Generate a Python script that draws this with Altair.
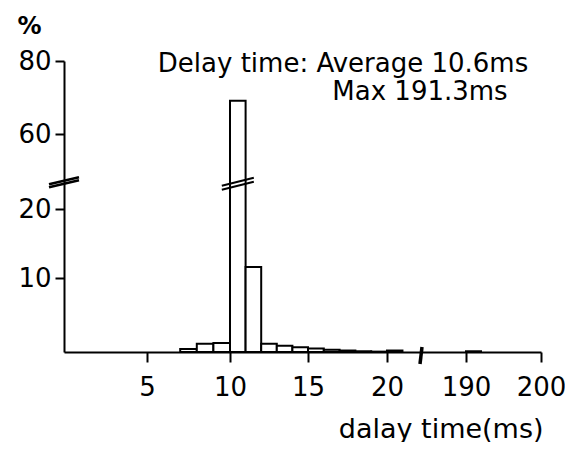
import altair as alt
import pandas as pd

# ---- data ----
bin_start = [7, 8, 9, 10, 11, 12, 13, 14, 15, 16, 17, 18, 19, 20, 190]
bin_end = [8, 9, 10, 11, 12, 13, 14, 15, 16, 17, 18, 19, 20, 21, 192]
percent = [0.4, 1.1, 1.2, 69.1, 11.6, 1.1, 0.85, 0.65, 0.47, 0.3, 0.2, 0.1, 0.05, 0.2, 0.1]

x_ticks = [5, 10, 15, 20, 190, 200]
y_ticks = [10, 20, 60, 80]

# broken axes (piecewise scales)
x_domain = [0, 5, 10, 15, 20, 22.2, 184, 190, 200]
x_range = [0, 83, 166, 244, 323, 357, 358, 402, 477]
y_domain = [0, 10, 20, 60, 80]
y_range = [291, 217, 148, 73, 0]

y_break = 33.5      # % value where the y axis / tall bar is broken
x_break = 22.2      # ms value where the x axis is broken
tall_bar_mid = 10.5

note_lines = ["Delay time: Average 10.6ms", "Max 191.3ms"]

FONT = "DejaVu Sans"

df = pd.DataFrame({"start": bin_start, "end": bin_end, "pct": percent})

xscale = alt.Scale(domain=x_domain, range=x_range, zero=False, nice=False)
yscale = alt.Scale(domain=y_domain, range=y_range, zero=False, nice=False)

bars = alt.Chart(df).mark_rect(fill="white", stroke="black", strokeWidth=2).encode(
    x=alt.X("start:Q", scale=xscale,
            axis=alt.Axis(values=x_ticks, title="dalay time(ms)", grid=False,
                          labelFont=FONT, labelFontSize=26, labelColor="black",
                          labelPadding=12, labelFlush=False, labelOverlap=False,
                          tickSize=10, tickWidth=2, tickColor="black",
                          domainColor="black", domainWidth=2,
                          titleFont=FONT, titleFontSize=27, titleFontWeight="normal",
                          titleColor="black", titleX=479, titleY=85, titleAlign="right",
                          titleBaseline="alphabetic", titleAnchor="end")),
    x2="end:Q",
    y=alt.Y("pct:Q", scale=yscale,
            axis=alt.Axis(values=y_ticks, title="%", grid=False,
                          labelFont=FONT, labelFontSize=26, labelColor="black",
                          labelPadding=4, labelFlush=False, labelOverlap=False,
                          tickSize=9, tickWidth=2, tickColor="black",
                          domainColor="black", domainWidth=2,
                          titleFont=FONT, titleFontSize=24, titleFontWeight="bold",
                          titleColor="black", titleAngle=0, titleX=-47, titleY=-28,
                          titleAlign="left", titleBaseline="alphabetic")),
    y2=alt.datum(0),
)

brk_y = pd.DataFrame({"x": [0.0], "y": [y_break]})
brk_bar = pd.DataFrame({"x": [tall_bar_mid], "y": [y_break]})
brk_x = pd.DataFrame({"x": [x_break], "y": [0.0]})


def slash(data, dy, half_w, half_h, width=2.5):
    return alt.Chart(data).mark_rule(
        color="black", strokeWidth=width,
        xOffset=-half_w, x2Offset=half_w,
        yOffset=half_h + dy, y2Offset=-half_h + dy,
    ).encode(x="x:Q", x2="x:Q", y="y:Q", y2="y:Q")


axis_break = slash(brk_y, 0, 15, 3.5) + slash(brk_y, -3, 15, 3.5)
bar_break = slash(brk_bar, 2, 16, 4, 2) + slash(brk_bar, -2, 16, 4, 2)
x_axis_break = alt.Chart(brk_x).mark_rule(
    color="black", strokeWidth=3.5, yOffset=-5, y2Offset=12, xOffset=1, x2Offset=-1
).encode(x="x:Q", x2="x:Q", y="y:Q", y2="y:Q")

note1 = alt.Chart(pd.DataFrame({"t": [note_lines[0]]})).mark_text(
    font=FONT, fontSize=26, color="black", align="center", baseline="alphabetic"
).encode(text="t:N", x=alt.value(279), y=alt.value(11))
note2 = alt.Chart(pd.DataFrame({"t": [note_lines[1]]})).mark_text(
    font=FONT, fontSize=26, color="black", align="center", baseline="alphabetic"
).encode(text="t:N", x=alt.value(356), y=alt.value(39))

chart = alt.layer(bars, axis_break, bar_break, x_axis_break, note1, note2).properties(
    width=477, height=291,
    autosize=alt.AutoSizeParams(type="none"),
    padding={"left": 56, "top": 53, "right": 24, "bottom": 90},
    background="white",
).configure_view(stroke=None)

chart.save("out.html", embed_options={"renderer": "svg", "actions": False})
